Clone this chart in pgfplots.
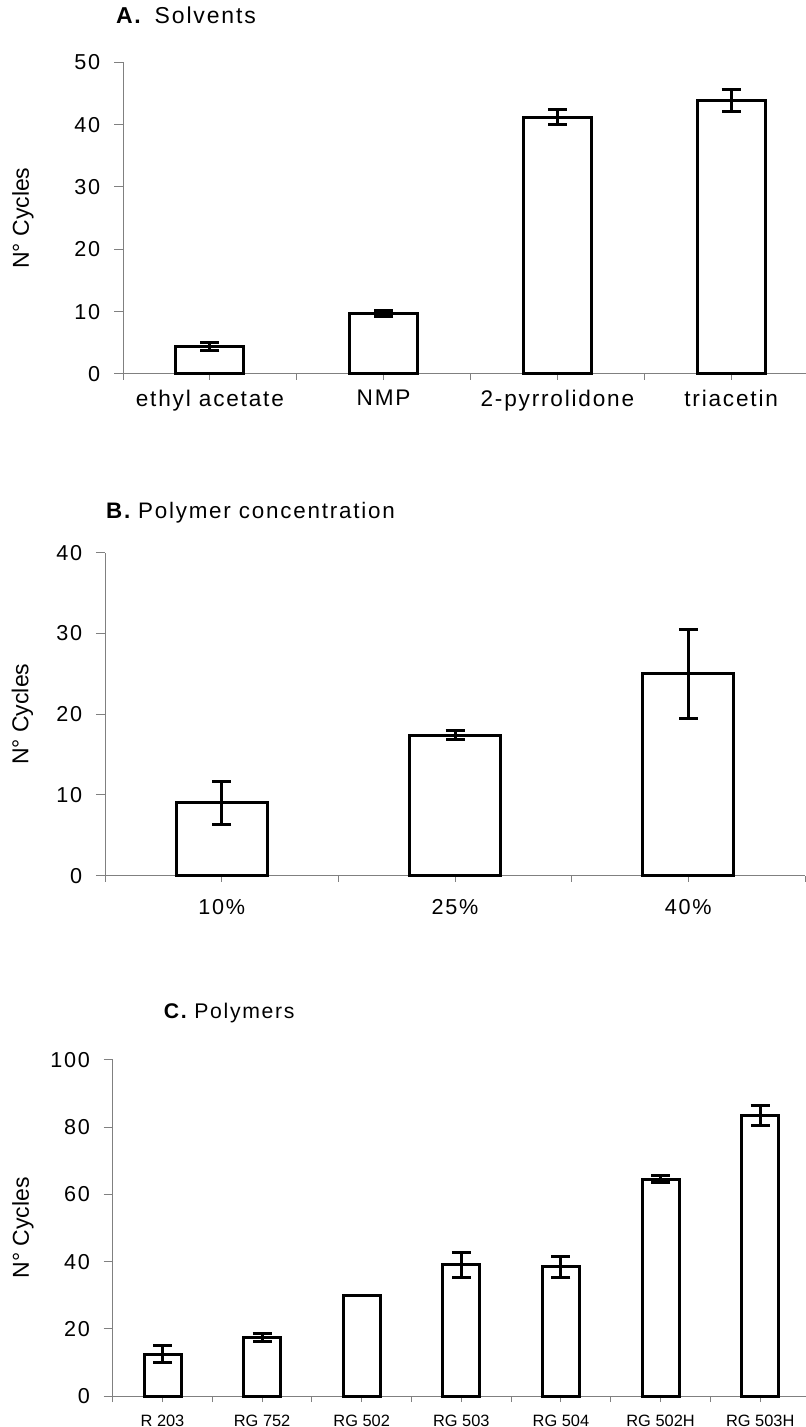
\documentclass[border=0pt]{standalone}
\usepackage{fontspec}
\setmainfont{Liberation Sans}
\newfontfamily\lsfont{Liberation Sans}[LetterSpace=8]
\usepackage{pgfplots}
\pgfplotsset{compat=1.18}
\pgfplotsset{
  panel/.style={
    scale only axis,
    axis x line*=bottom, axis y line*=left,
    axis line style={draw=gray, line width=0.5pt},
    tick style={draw=gray, line width=0.5pt},
    tick align=outside,
    major tick length=4.5pt,
    xtick style={/pgfplots/major tick length=3pt},
    ymin=0,
    clip=false,
    /pgf/number format/assume math mode=true,
    yticklabel style={font=\lsfont\fontsize{10.8}{12}\selectfont, xshift=-3.4pt},
    xticklabels={},
    ylabel={N° Cycles},
  },
  ylab/.style={every axis y label/.style={at={(rel axis cs:0,0.5)}, xshift=-#1, anchor=center, rotate=90, font=\fontsize{11.5}{13}\selectfont}},
  barstyle/.style={
    ybar, draw=black, fill=white, line width=1.5pt, mark=none,
    error bars/.cd, y dir=both, y explicit,
    error bar style={line width=1.5pt, black},
    error mark options={rotate=90, mark size=4.75pt, line width=1.5pt, black},
    /pgfplots/.cd,
  },
}
\begin{document}
\begin{tikzpicture}
\useasboundingbox (0,0) rectangle (403pt,713.5pt);
% Panel A
\begin{axis}[panel, ylab=50pt,
  at={(61.5pt,526.5pt)}, anchor=south west,
  width=347.5pt, height=155.85pt,
  xmin=-0.5, xmax=3.5, ymax=50, ytick={0,10,...,50},
  xtick={-0.5,0.5,1.5,2.5,3.5},
  extra x ticks={0,1,2,3},
  extra x tick labels={ethyl acetate,NMP,2-pyrrolidone,triacetin},
  extra x tick style={major tick length=0pt, tick label style={font=\lsfont\fontsize{11.3}{13}\selectfont, yshift=-4.4pt}},
]
\addplot[bar width=34pt, barstyle] coordinates {
  (0,4.4) +- (0,0.65)
  (1,9.7) +- (0,0.5)
  (2,41.2) +- (0,1.15)
  (3,43.9) +- (0,1.75)
};
\end{axis}
\node[anchor=base west, font=\lsfont\fontsize{11.5}{13}\selectfont] at (54.5pt,701.5pt) {\textbf{A.}\hspace{6pt}Solvents};
% Panel B
\begin{axis}[panel, ylab=41.25pt,
  at={(52.5pt,275.65pt)}, anchor=south west,
  width=350pt, height=161.5pt,
  xmin=-0.5, xmax=2.5, ymax=40, ytick={0,10,...,40},
  xtick={-0.5,0.5,1.5,2.5},
  extra x ticks={0,1,2},
  extra x tick labels={10\%,25\%,40\%},
  extra x tick style={major tick length=0pt, tick label style={font=\lsfont\fontsize{10.8}{13}\selectfont, yshift=-8.4pt}},
]
\addplot[bar width=45.5pt, barstyle] coordinates {
  (0,9.05) +- (0,2.65)
  (1,17.4) +- (0,0.58)
  (2,25.0) +- (0,5.5)
};
\end{axis}
\node[anchor=base west, font=\lsfont\fontsize{11.2}{13}\selectfont] at (49.5pt,454.35pt) {\textbf{B.}\hspace{3pt}Polymer concentration};
% Panel C
\begin{axis}[panel, ylab=44.85pt,
  at={(56.35pt,15.5pt)}, anchor=south west,
  width=348.65pt, height=168pt,
  xmin=-0.5, xmax=6.5, ymax=100, ytick={0,20,...,100},
  xtick={-0.5,0.5,1.5,2.5,3.5,4.5,5.5,6.5},
  extra x ticks={0,1,2,3,4,5,6},
  extra x tick labels={R 203,RG 752,RG 502,RG 503,RG 504,RG 502H,RG 503H},
  extra x tick style={major tick length=0pt, tick label style={font=\fontsize{8.2}{10}\selectfont, yshift=-5.8pt}},
]
\addplot[bar width=18.5pt, barstyle] coordinates {
  (0,12.4) +- (0,2.5)
  (1,17.4) +- (0,1.1)
  (2,29.9) +- (0,0)
  (3,39.0) +- (0,3.7)
  (4,38.4) +- (0,3.0)
  (5,64.5) +- (0,1.1)
  (6,83.4) +- (0,3.0)
};
\end{axis}
\node[anchor=base west, font=\lsfont\fontsize{10.6}{13}\selectfont] at (78.35pt,204.35pt) {\textbf{C.}\hspace{3pt}Polymers};
\end{tikzpicture}
\end{document}
